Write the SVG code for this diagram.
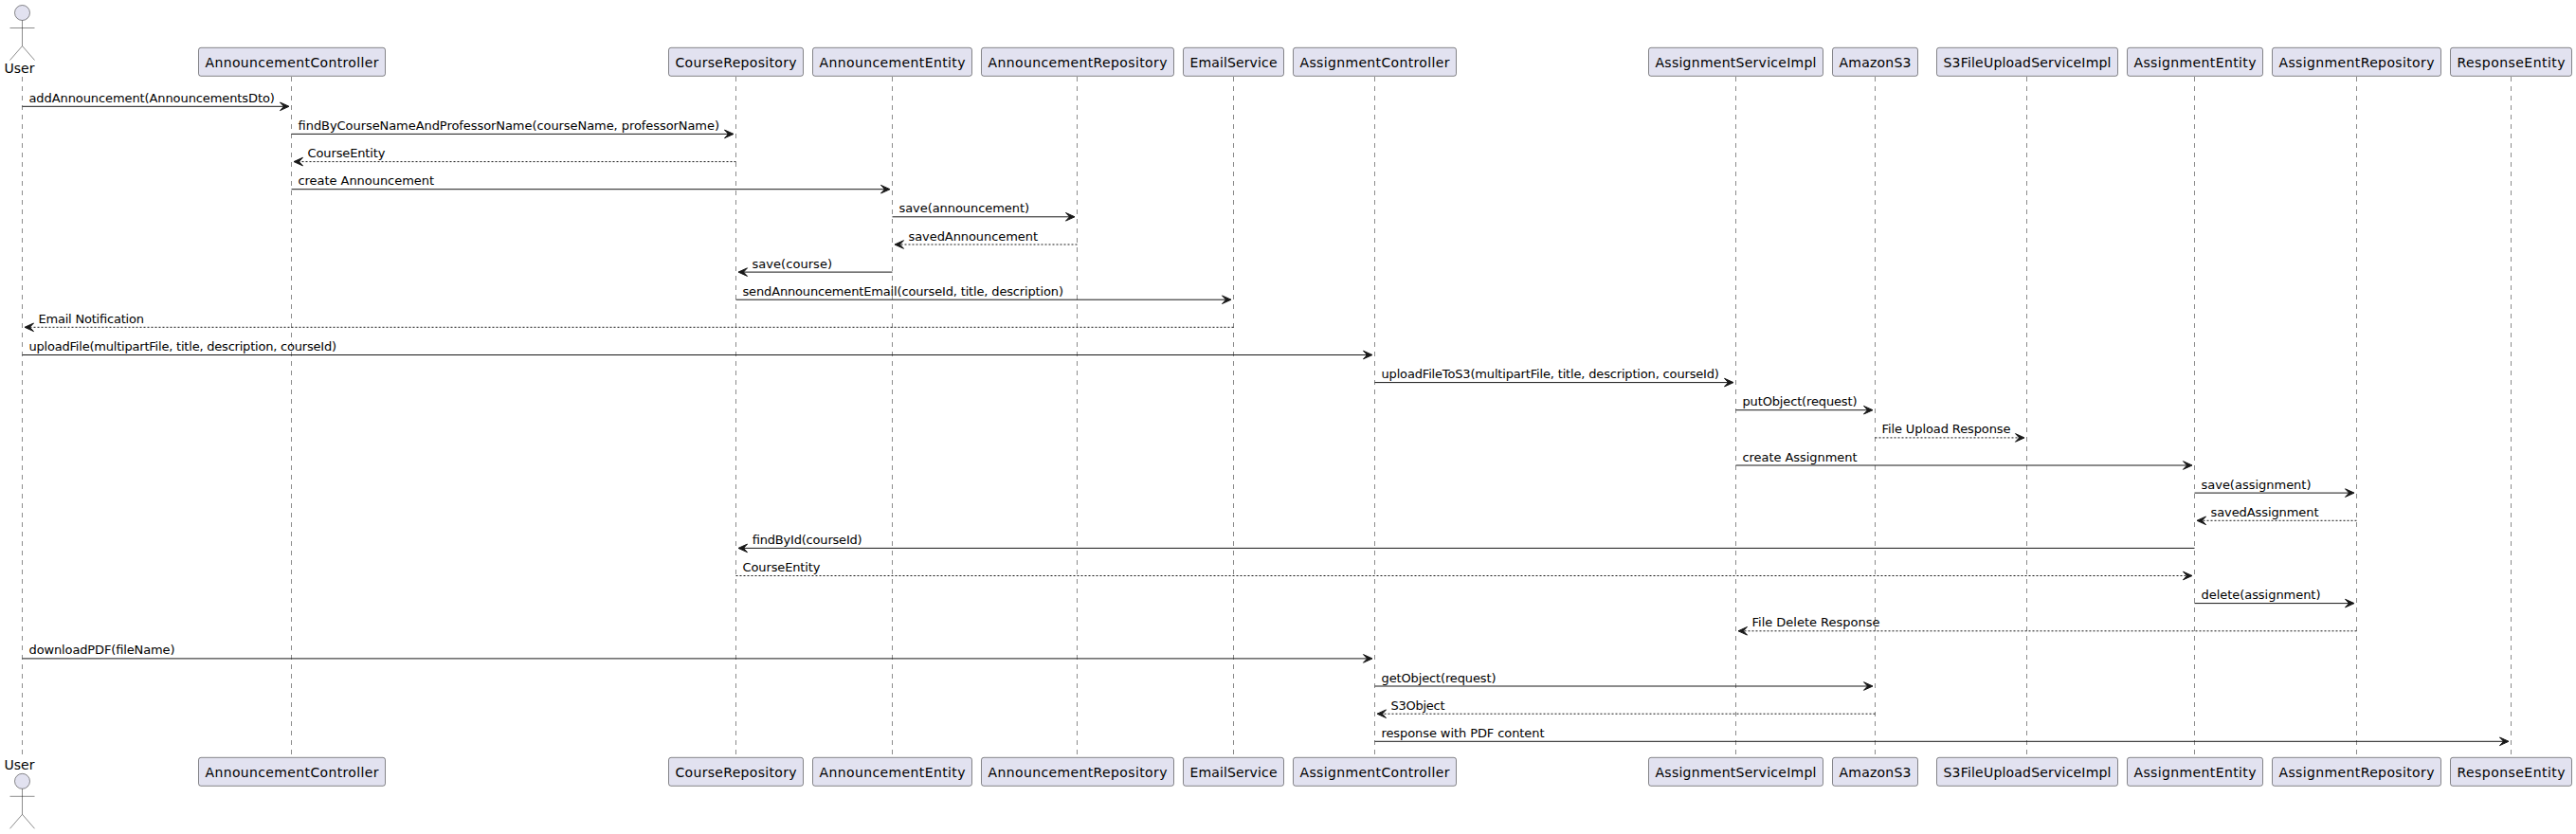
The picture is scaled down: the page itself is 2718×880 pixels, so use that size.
<svg xmlns="http://www.w3.org/2000/svg" width="2718" height="880" viewBox="0 0 2718 880">
<style>
text{font-family:"DejaVu Sans",sans-serif;font-size:14px;fill:#000}
#connectors text{font-size:13px}
.box{fill:#E2E2F0;stroke:#181818;stroke-width:.5}
.life{stroke:#181818;stroke-width:.5;stroke-dasharray:5,5;fill:none}
.act{fill:none;stroke:#181818;stroke-width:.5}
.head{fill:#E2E2F0;stroke:#181818;stroke-width:.5}
.m{stroke:#181818;stroke-width:1;fill:none}
.d{stroke:#181818;stroke-width:1;fill:none;stroke-dasharray:2,2}
.a{fill:#181818;stroke:#181818;stroke-width:1}
</style>
<defs>
<path id="ar" d="M-12,-4.3 L-2.5,0 L-12,4.3 L-8,0 Z"/>
<path id="al" d="M12,-4.3 L2.5,0 L12,4.3 L8,0 Z"/>
<g id="actor">
<circle class="head" cx="0" cy="0" r="8"/>
<path class="act" d="M0,8 V35 M-13,16 H13 M0,35 L-13,50 M0,35 L13,50"/>
</g>
</defs>
<rect width="2718" height="880" fill="#fff"/>
<g id="lifelines">
<line class="life" x1="23.5" y1="81" x2="23.5" y2="799"/>
<line class="life" x1="307.5" y1="81" x2="307.5" y2="799"/>
<line class="life" x1="776.5" y1="81" x2="776.5" y2="799"/>
<line class="life" x1="941.5" y1="81" x2="941.5" y2="799"/>
<line class="life" x1="1136.5" y1="81" x2="1136.5" y2="799"/>
<line class="life" x1="1301.5" y1="81" x2="1301.5" y2="799"/>
<line class="life" x1="1450.5" y1="81" x2="1450.5" y2="799"/>
<line class="life" x1="1831.5" y1="81" x2="1831.5" y2="799"/>
<line class="life" x1="1978.5" y1="81" x2="1978.5" y2="799"/>
<line class="life" x1="2138.5" y1="81" x2="2138.5" y2="799"/>
<line class="life" x1="2315.5" y1="81" x2="2315.5" y2="799"/>
<line class="life" x1="2486.5" y1="81" x2="2486.5" y2="799"/>
<line class="life" x1="2649.5" y1="81" x2="2649.5" y2="799"/>
</g>
<g id="node-user"><use href="#actor" x="23.5" y="13.5"/><text x="4.5" y="77" textLength="32">User</text><text x="4.5" y="812" textLength="32">User</text><use href="#actor" x="23.5" y="824.3"/></g>
<g id="node-announcementcontroller"><rect class="box" x="209.5" y="50.3" width="197" height="30" rx="2.5"/><text x="216.5" y="70.5" textLength="183">AnnouncementController</text><rect class="box" x="209.5" y="799.3" width="197" height="30" rx="2.5"/><text x="216.5" y="819.5" textLength="183">AnnouncementController</text></g>
<g id="node-courserepository"><rect class="box" x="705.5" y="50.3" width="142" height="30" rx="2.5"/><text x="712.5" y="70.5" textLength="128">CourseRepository</text><rect class="box" x="705.5" y="799.3" width="142" height="30" rx="2.5"/><text x="712.5" y="819.5" textLength="128">CourseRepository</text></g>
<g id="node-announcemententity"><rect class="box" x="857.5" y="50.3" width="168" height="30" rx="2.5"/><text x="864.5" y="70.5" textLength="154">AnnouncementEntity</text><rect class="box" x="857.5" y="799.3" width="168" height="30" rx="2.5"/><text x="864.5" y="819.5" textLength="154">AnnouncementEntity</text></g>
<g id="node-announcementrepository"><rect class="box" x="1035.5" y="50.3" width="203" height="30" rx="2.5"/><text x="1042.5" y="70.5" textLength="189">AnnouncementRepository</text><rect class="box" x="1035.5" y="799.3" width="203" height="30" rx="2.5"/><text x="1042.5" y="819.5" textLength="189">AnnouncementRepository</text></g>
<g id="node-emailservice"><rect class="box" x="1248.5" y="50.3" width="106" height="30" rx="2.5"/><text x="1255.5" y="70.5" textLength="92">EmailService</text><rect class="box" x="1248.5" y="799.3" width="106" height="30" rx="2.5"/><text x="1255.5" y="819.5" textLength="92">EmailService</text></g>
<g id="node-assignmentcontroller"><rect class="box" x="1364.5" y="50.3" width="172" height="30" rx="2.5"/><text x="1371.5" y="70.5" textLength="158">AssignmentController</text><rect class="box" x="1364.5" y="799.3" width="172" height="30" rx="2.5"/><text x="1371.5" y="819.5" textLength="158">AssignmentController</text></g>
<g id="node-assignmentserviceimpl"><rect class="box" x="1739.5" y="50.3" width="184" height="30" rx="2.5"/><text x="1746.5" y="70.5" textLength="170">AssignmentServiceImpl</text><rect class="box" x="1739.5" y="799.3" width="184" height="30" rx="2.5"/><text x="1746.5" y="819.5" textLength="170">AssignmentServiceImpl</text></g>
<g id="node-amazons3"><rect class="box" x="1933.5" y="50.3" width="90" height="30" rx="2.5"/><text x="1940.5" y="70.5" textLength="76">AmazonS3</text><rect class="box" x="1933.5" y="799.3" width="90" height="30" rx="2.5"/><text x="1940.5" y="819.5" textLength="76">AmazonS3</text></g>
<g id="node-s3fileuploadserviceimpl"><rect class="box" x="2043.5" y="50.3" width="191" height="30" rx="2.5"/><text x="2050.5" y="70.5" textLength="177">S3FileUploadServiceImpl</text><rect class="box" x="2043.5" y="799.3" width="191" height="30" rx="2.5"/><text x="2050.5" y="819.5" textLength="177">S3FileUploadServiceImpl</text></g>
<g id="node-assignmententity"><rect class="box" x="2244.5" y="50.3" width="143" height="30" rx="2.5"/><text x="2251.5" y="70.5" textLength="129">AssignmentEntity</text><rect class="box" x="2244.5" y="799.3" width="143" height="30" rx="2.5"/><text x="2251.5" y="819.5" textLength="129">AssignmentEntity</text></g>
<g id="node-assignmentrepository"><rect class="box" x="2397.5" y="50.3" width="178" height="30" rx="2.5"/><text x="2404.5" y="70.5" textLength="164">AssignmentRepository</text><rect class="box" x="2397.5" y="799.3" width="178" height="30" rx="2.5"/><text x="2404.5" y="819.5" textLength="164">AssignmentRepository</text></g>
<g id="node-responseentity"><rect class="box" x="2585.5" y="50.3" width="128" height="30" rx="2.5"/><text x="2592.5" y="70.5" textLength="114">ResponseEntity</text><rect class="box" x="2585.5" y="799.3" width="128" height="30" rx="2.5"/><text x="2592.5" y="819.5" textLength="114">ResponseEntity</text></g>
<g id="connectors">
<line class="m" x1="23.5" y1="112.3" x2="300" y2="112.3"/><use class="a" href="#ar" x="307.5" y="112.3"/><text x="30.5" y="107.8" textLength="259.4">addAnnouncement(AnnouncementsDto)</text>
<line class="m" x1="307.5" y1="141.4" x2="769" y2="141.4"/><use class="a" href="#ar" x="776.5" y="141.4"/><text x="314.5" y="136.9" textLength="444.4">findByCourseNameAndProfessorName(courseName, professorName)</text>
<line class="d" x1="776.5" y1="170.6" x2="315" y2="170.6"/><use class="a" href="#al" x="307.5" y="170.6"/><text x="324.5" y="166.1" textLength="82">CourseEntity</text>
<line class="m" x1="307.5" y1="199.7" x2="934" y2="199.7"/><use class="a" href="#ar" x="941.5" y="199.7"/><text x="314.5" y="195.2" textLength="143.5">create Announcement</text>
<line class="m" x1="941.5" y1="228.8" x2="1129" y2="228.8"/><use class="a" href="#ar" x="1136.5" y="228.8"/><text x="948.5" y="224.3" textLength="137.5">save(announcement)</text>
<line class="d" x1="1136.5" y1="258" x2="949" y2="258"/><use class="a" href="#al" x="941.5" y="258"/><text x="958.5" y="253.5" textLength="136.5">savedAnnouncement</text>
<line class="m" x1="941.5" y1="287.1" x2="784" y2="287.1"/><use class="a" href="#al" x="776.5" y="287.1"/><text x="793.5" y="282.6" textLength="84.5">save(course)</text>
<line class="m" x1="776.5" y1="316.2" x2="1294" y2="316.2"/><use class="a" href="#ar" x="1301.5" y="316.2"/><text x="783.5" y="311.7" textLength="338.5">sendAnnouncementEmail(courseId, title, description)</text>
<line class="d" x1="1301.5" y1="345.3" x2="31" y2="345.3"/><use class="a" href="#al" x="23.5" y="345.3"/><text x="40.5" y="340.8" textLength="111.5">Email Notification</text>
<line class="m" x1="23.5" y1="374.5" x2="1443" y2="374.5"/><use class="a" href="#ar" x="1450.5" y="374.5"/><text x="30.5" y="370" textLength="324.5">uploadFile(multipartFile, title, description, courseId)</text>
<line class="m" x1="1450.5" y1="403.6" x2="1824" y2="403.6"/><use class="a" href="#ar" x="1831.5" y="403.6"/><text x="1457.5" y="399.1" textLength="356.4">uploadFileToS3(multipartFile, title, description, courseId)</text>
<line class="m" x1="1831.5" y1="432.7" x2="1971" y2="432.7"/><use class="a" href="#ar" x="1978.5" y="432.7"/><text x="1838.5" y="428.2" textLength="121">putObject(request)</text>
<line class="d" x1="1978.5" y1="461.9" x2="2131" y2="461.9"/><use class="a" href="#ar" x="2138.5" y="461.9"/><text x="1985.5" y="457.4" textLength="136">File Upload Response</text>
<line class="m" x1="1831.5" y1="491" x2="2308" y2="491"/><use class="a" href="#ar" x="2315.5" y="491"/><text x="1838.5" y="486.5" textLength="121">create Assignment</text>
<line class="m" x1="2315.5" y1="520.1" x2="2479" y2="520.1"/><use class="a" href="#ar" x="2486.5" y="520.1"/><text x="2322.5" y="515.6" textLength="116">save(assignment)</text>
<line class="d" x1="2486.5" y1="549.3" x2="2323" y2="549.3"/><use class="a" href="#al" x="2315.5" y="549.3"/><text x="2332.5" y="544.8" textLength="114">savedAssignment</text>
<line class="m" x1="2315.5" y1="578.4" x2="784" y2="578.4"/><use class="a" href="#al" x="776.5" y="578.4"/><text x="793.5" y="573.9" textLength="116">findById(courseId)</text>
<line class="d" x1="776.5" y1="607.5" x2="2308" y2="607.5"/><use class="a" href="#ar" x="2315.5" y="607.5"/><text x="783.5" y="603" textLength="82">CourseEntity</text>
<line class="m" x1="2315.5" y1="636.6" x2="2479" y2="636.6"/><use class="a" href="#ar" x="2486.5" y="636.6"/><text x="2322.5" y="632.1" textLength="126">delete(assignment)</text>
<line class="d" x1="2486.5" y1="665.8" x2="1839" y2="665.8"/><use class="a" href="#al" x="1831.5" y="665.8"/><text x="1848.5" y="661.3" textLength="135">File Delete Response</text>
<line class="m" x1="23.5" y1="694.9" x2="1443" y2="694.9"/><use class="a" href="#ar" x="1450.5" y="694.9"/><text x="30.5" y="690.4" textLength="154">downloadPDF(fileName)</text>
<line class="m" x1="1450.5" y1="724" x2="1971" y2="724"/><use class="a" href="#ar" x="1978.5" y="724"/><text x="1457.5" y="719.5" textLength="121">getObject(request)</text>
<line class="d" x1="1978.5" y1="753.2" x2="1458" y2="753.2"/><use class="a" href="#al" x="1450.5" y="753.2"/><text x="1467.5" y="748.7" textLength="57">S3Object</text>
<line class="m" x1="1450.5" y1="782.3" x2="2642" y2="782.3"/><use class="a" href="#ar" x="2649.5" y="782.3"/><text x="1457.5" y="777.8" textLength="172">response with PDF content</text>
</g>
</svg>
